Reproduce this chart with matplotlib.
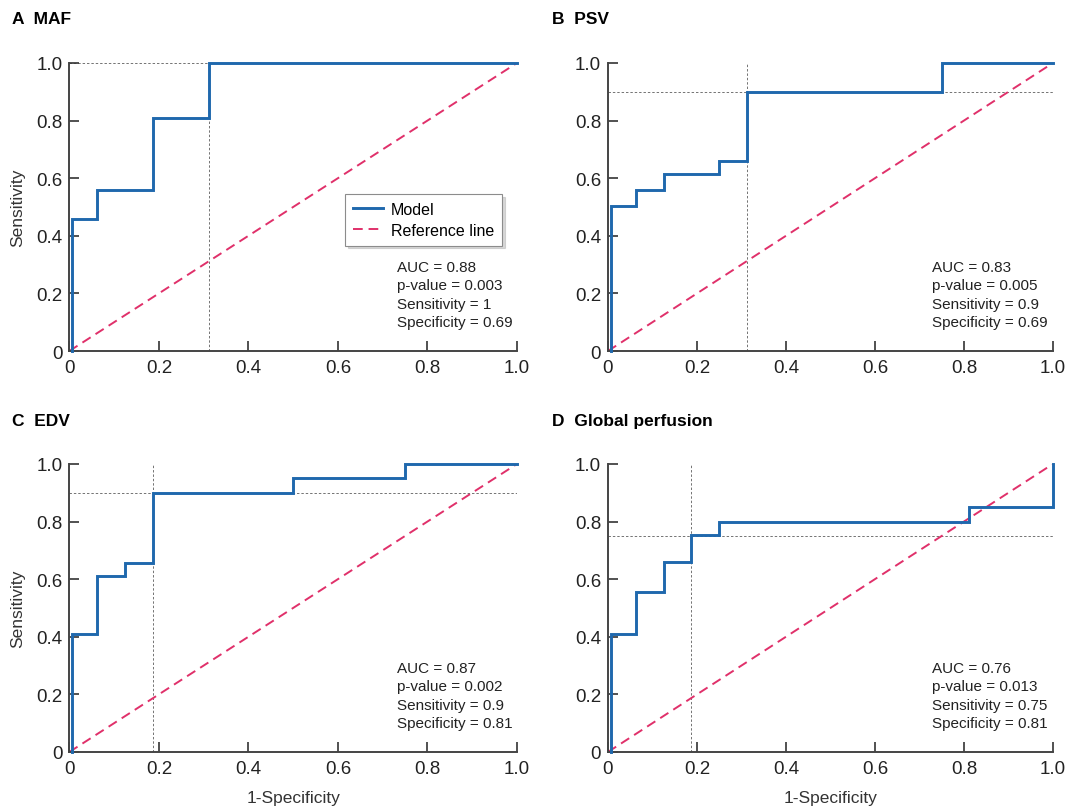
import numpy as np
import matplotlib
matplotlib.use("Agg")
import matplotlib.pyplot as plt

plt.rcParams['font.family'] = ['Liberation Sans', 'DejaVu Sans']

# ROC step points (1-specificity, sensitivity)
maf_fpr = [0, 0, 0.0625, 0.0625, 0.1875, 0.1875, 0.3125, 0.3125, 1.0]
maf_tpr = [0, 0.46, 0.46, 0.56, 0.56, 0.81, 0.81, 1.0, 1.0]

psv_fpr = [0, 0, 0.0625, 0.0625, 0.125, 0.125, 0.25, 0.25, 0.3125, 0.3125, 0.75, 0.75, 1.0]
psv_tpr = [0, 0.505, 0.505, 0.56, 0.56, 0.615, 0.615, 0.66, 0.66, 0.90, 0.90, 1.0, 1.0]

edv_fpr = [0, 0, 0.0625, 0.0625, 0.125, 0.125, 0.1875, 0.1875, 0.5, 0.5, 0.75, 0.75, 1.0]
edv_tpr = [0, 0.41, 0.41, 0.61, 0.61, 0.655, 0.655, 0.90, 0.90, 0.95, 0.95, 1.0, 1.0]

gp_fpr = [0, 0, 0.0625, 0.0625, 0.125, 0.125, 0.1875, 0.1875, 0.25, 0.25, 0.8125, 0.8125, 1.0, 1.0]
gp_tpr = [0, 0.41, 0.41, 0.555, 0.555, 0.66, 0.66, 0.755, 0.755, 0.80, 0.80, 0.85, 0.85, 1.0]

# optimal cut-off (1-specificity, sensitivity)
cutoffs = [(0.3125, 1.0), (0.3125, 0.90), (0.1875, 0.90), (0.1875, 0.75)]

letters = ['A', 'B', 'C', 'D']
names = ['MAF', 'PSV', 'EDV', 'Global perfusion']
stats = [
    "AUC = 0.88\np-value = 0.003\nSensitivity = 1\nSpecificity = 0.69",
    "AUC = 0.83\np-value = 0.005\nSensitivity = 0.9\nSpecificity = 0.69",
    "AUC = 0.87\np-value = 0.002\nSensitivity = 0.9\nSpecificity = 0.81",
    "AUC = 0.76\np-value = 0.013\nSensitivity = 0.75\nSpecificity = 0.81",
]
curves = [(maf_fpr, maf_tpr), (psv_fpr, psv_tpr), (edv_fpr, edv_tpr), (gp_fpr, gp_tpr)]

blue = '#1f68ad'
pink = '#e0306a'

fig = plt.figure(figsize=(10.67, 8.12), dpi=100)

# axes rectangles [left, bottom, width, height] in figure fraction
rects = [
    [0.0650, 0.5665, 0.4195, 0.3547],
    [0.5698, 0.5665, 0.4170, 0.3547],
    [0.0650, 0.0727, 0.4195, 0.3547],
    [0.5698, 0.0727, 0.4170, 0.3547],
]
title_pos = [(0.011, 0.976), (0.517, 0.976), (0.011, 0.481), (0.517, 0.481)]
text_x = [0.732, 0.728, 0.732, 0.728]

for i in range(4):
    ax = fig.add_axes(rects[i])
    fpr, tpr = curves[i]
    cx, cy = cutoffs[i]

    ax.axvline(cx, color='0.45', lw=0.7, ls=(0, (2.5, 2)), zorder=1)
    ax.axhline(cy, color='0.45', lw=0.7, ls=(0, (2.5, 2)), zorder=1)
    ax.plot([0, 1], [0, 1], color=pink, lw=1.4, ls=(0, (5, 3)), label='Reference line', zorder=2)
    xs = np.array(fpr, dtype=float)
    xs[xs == 0] = 0.006
    ax.plot(xs, tpr, color=blue, lw=2.1, label='Model', zorder=3,
            solid_joinstyle='miter', clip_on=False)

    ax.set_xlim(0, 1.0)
    ax.set_ylim(0, 1.0)
    ax.set_xticks([0, 0.2, 0.4, 0.6, 0.8, 1.0])
    ax.set_xticklabels(['0', '0.2', '0.4', '0.6', '0.8', '1.0'])
    ax.set_yticks([0, 0.2, 0.4, 0.6, 0.8, 1.0])
    ax.set_yticklabels(['0', '0.2', '0.4', '0.6', '0.8', '1.0'])
    ax.tick_params(direction='in', length=7, width=1.2, labelsize=13.5, colors='#333333',
                   labelcolor='#222222')
    ax.tick_params(axis='x', pad=6)
    ax.tick_params(axis='y', pad=5)
    for s in ['top', 'right']:
        ax.spines[s].set_visible(False)
    for s in ['left', 'bottom']:
        ax.spines[s].set_color('#444444')
        ax.spines[s].set_linewidth(1.4)

    ax.text(text_x[i], 0.315, stats[i], transform=ax.transAxes, fontsize=11,
            va='top', ha='left', linespacing=1.38, color='#222222')

    fig.text(title_pos[i][0], title_pos[i][1], letters[i] + '  ' + names[i],
             fontsize=12.5, fontweight='bold', va='center', ha='left')

    if i in (0, 2):
        ax.set_ylabel('Sensitivity', fontsize=12.5, color='#333333', labelpad=8)
    if i in (2, 3):
        ax.set_xlabel('1-Specificity', fontsize=12.5, color='#333333', labelpad=9)

    if i == 0:
        h, l = ax.get_legend_handles_labels()
        leg = ax.legend(h[::-1], l[::-1], loc='upper right', bbox_to_anchor=(0.966, 0.545),
                        fontsize=11.5, frameon=True, fancybox=False,
                        shadow={'color': '0.7', 'alpha': 0.5}, edgecolor='0.55',
                        handlelength=1.9, handletextpad=0.45, borderpad=0.5,
                        labelspacing=0.35, borderaxespad=0)
        leg.get_frame().set_linewidth(0.8)

fig.savefig('out.png', dpi=100)
